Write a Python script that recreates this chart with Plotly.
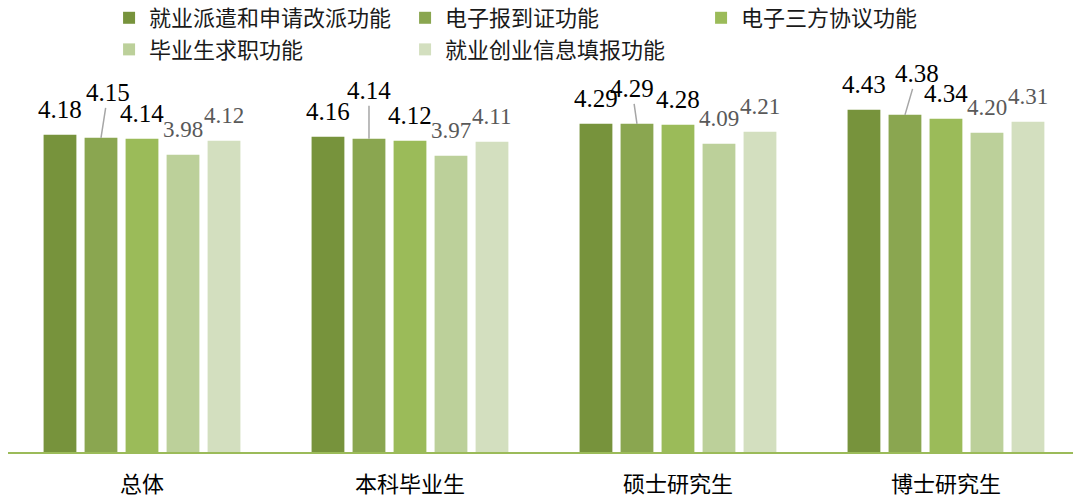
import plotly.graph_objects as go

categories = ["总体", "本科毕业生", "硕士研究生", "博士研究生"]
series_names = ["就业派遣和申请改派功能", "电子报到证功能", "电子三方协议功能", "毕业生求职功能", "就业创业信息填报功能"]
s1 = [4.18, 4.16, 4.29, 4.43]
s2 = [4.15, 4.14, 4.29, 4.38]
s3 = [4.14, 4.12, 4.28, 4.34]
s4 = [3.98, 3.97, 4.09, 4.20]
s5 = [4.12, 4.11, 4.21, 4.31]
series_values = [s1, s2, s3, s4, s5]

colors = ["#77933C", "#8AA650", "#9BBB59", "#BCD09A", "#D3DFBF"]
label_colors = ["#000000", "#000000", "#000000", "#595959", "#595959"]
label_sizes = [25, 25, 25, 23, 23]
# leader-line label offsets (pixels) for series 2
s2_offsets = [(7, -45), (0, -48), (-5, -35), (12, -41)]

BARGAP = 0.235
BARGROUPGAP = 0.2
n = len(series_names)
slot = (1 - BARGAP) / n

fig = go.Figure()
for i, (name, vals) in enumerate(zip(series_names, series_values)):
    fig.add_trace(go.Bar(
        x=list(range(len(categories))), y=vals, name=name,
        marker=dict(color=colors[i], line=dict(width=0)),
        hoverinfo="y+name",
    ))

annotations = []
for i, vals in enumerate(series_values):
    for j, v in enumerate(vals):
        xpos = j + (i - (n - 1) / 2) * slot
        font = dict(family="Liberation Serif, Times New Roman, serif", size=label_sizes[i], color=label_colors[i])
        if i == 1:
            ax, ay = s2_offsets[j]
            annotations.append(dict(
                x=xpos, y=v, xref="x", yref="y", text=f"{v:.2f}", font=font,
                showarrow=True, arrowhead=0, arrowwidth=1.5, arrowcolor="#A6A6A6",
                ax=ax, ay=ay, standoff=0,
            ))
        else:
            annotations.append(dict(
                x=xpos, y=v, xref="x", yref="y", text=f"{v:.2f}", font=font,
                showarrow=False, yshift=25,
            ))

fig.update_layout(
    width=1073, height=500,
    margin=dict(l=8, r=0, t=53, b=48, autoexpand=False),
    paper_bgcolor="white", plot_bgcolor="white",
    barmode="group", bargap=BARGAP, bargroupgap=BARGROUPGAP,
    showlegend=True,
    legend=dict(
        orientation="h", xref="paper", yref="paper",
        x=0.0949, y=1.1404, xanchor="left", yanchor="top",
        entrywidth=251, entrywidthmode="pixels",
        font=dict(family="Noto Sans CJK SC", size=22, color="#1A1A1A"),
        bgcolor="rgba(0,0,0,0)", tracegroupgap=0,
    ),
    xaxis=dict(
        tickmode="array", tickvals=list(range(len(categories))), ticktext=categories,
        range=[-0.5, 3.474], showline=True, linecolor="#9BBB59", linewidth=2,
        showgrid=False, zeroline=False, ticks="", ticklabelstandoff=12,
        tickfont=dict(family="Noto Sans CJK SC", size=22, color="#000000"),
    ),
    yaxis=dict(range=[1, 5], visible=False, showgrid=False, zeroline=False),
    annotations=annotations,
)

fig.write_html("out.html", config={"displayModeBar": False},
               post_script="document.body.style.margin='0';")
